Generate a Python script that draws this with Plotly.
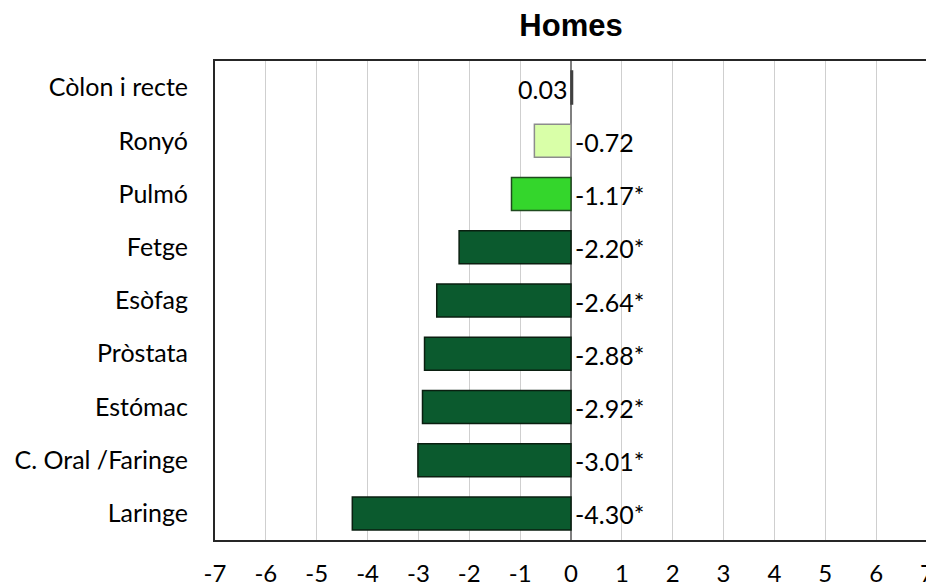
import plotly.graph_objects as go

categories = ["Còlon i recte", "Ronyó", "Pulmó", "Fetge", "Esòfag",
              "Pròstata", "Estómac", "C. Oral /Faringe", "Laringe"]
values = [0.03, -0.72, -1.17, -2.20, -2.64, -2.88, -2.92, -3.01, -4.30]
significant = [False, False, True, True, True, True, True, True, True]
bar_colors = ["#404040", "#D9FFA8", "#34D62C", "#0B5A2E", "#0B5A2E",
              "#0B5A2E", "#0B5A2E", "#0B5A2E", "#0B5A2E"]
line_colors = ["#404040", "#8C8C8C", "#1E4A1E", "#0A1F10", "#0A1F10",
               "#0A1F10", "#0A1F10", "#0A1F10", "#0A1F10"]
x_ticks = list(range(-7, 8))

labels = [f"{v:.2f}" + ("*" if s else "") for v, s in zip(values, significant)]

FONT = "Lato, 'Liberation Sans', Arial, sans-serif"

# The page body has an 8px default margin, so the figure is sized/offset to compensate.
fig = go.Figure()
fig.add_trace(go.Bar(
    y=categories, x=values, orientation="h", width=0.62,
    marker=dict(color=bar_colors, line=dict(color=line_colors, width=1.5)),
    hoverinfo="x+y", showlegend=False,
))

annotations = []
for cat, v, lab in zip(categories, values, labels):
    annotations.append(dict(
        x=0, y=cat, xref="x", yref="y", text=lab, showarrow=False,
        xanchor="right" if v > 0 else "left",
        xshift=-2 if v > 0 else 2, yshift=-1,
        font=dict(family=FONT, size=25, color="#000000"),
    ))

fig.update_layout(
    width=926, height=580,
    margin=dict(l=207, r=7, t=53, b=48),
    paper_bgcolor="white", plot_bgcolor="white",
    title=dict(text="<b>Homes</b>", x=0.5, xref="paper", y=1 - 17 / 580, yref="container",
               xanchor="center", yanchor="middle",
               font=dict(family="'Liberation Sans', Arial, sans-serif", size=31, color="#000")),
    xaxis=dict(range=[-7, 7], tickvals=x_ticks, ticktext=[str(t) for t in x_ticks],
               showgrid=True, gridcolor="#CFCFCF", gridwidth=1,
               zeroline=True, zerolinecolor="#7F7F7F", zerolinewidth=2,
               showline=True, linecolor="#262626", linewidth=2, mirror=True,
               ticks="", ticklabelstandoff=11, automargin=False,
               tickfont=dict(family=FONT, size=24, color="#000")),
    yaxis=dict(categoryorder="array", categoryarray=categories,
               range=[8.5, -0.5], automargin=False,
               showgrid=False, zeroline=False,
               showline=True, linecolor="#262626", linewidth=2, mirror=True,
               ticks="", ticklabelstandoff=20,
               tickfont=dict(family=FONT, size=25, color="#000")),
    annotations=annotations,
)

fig.write_html("out.html")
